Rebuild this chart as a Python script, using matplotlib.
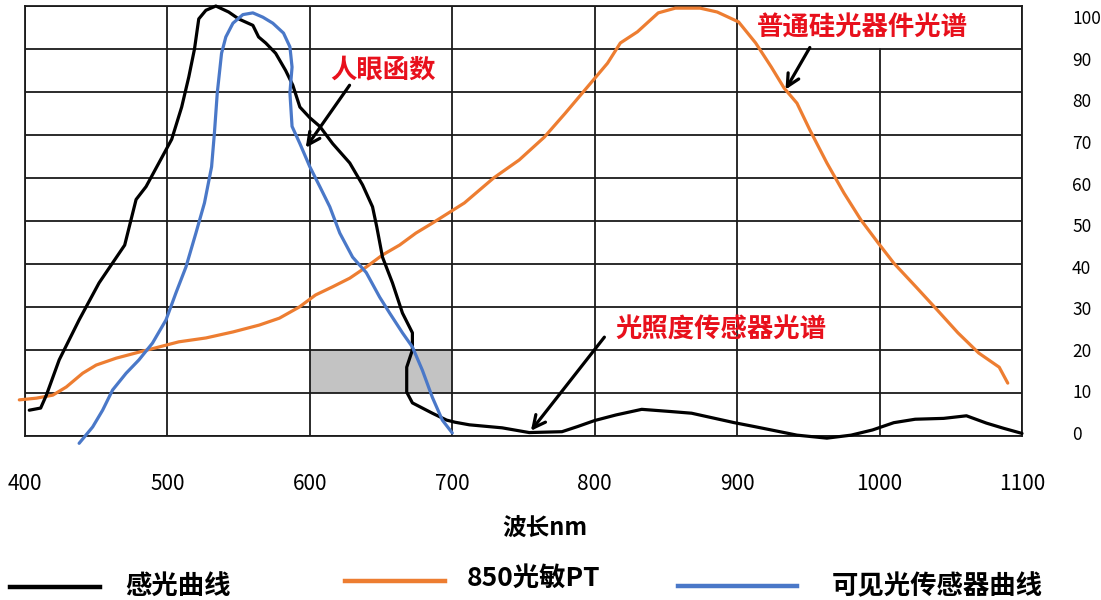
import matplotlib.pyplot as plt
from matplotlib.lines import Line2D
from matplotlib.patches import Rectangle

plt.rcParams['font.family'] = ['Noto Sans CJK SC', 'DejaVu Sans']

# 感光曲线 (black)
black_x = [403, 411, 415, 424, 438, 452, 461, 470, 478, 485,
           494, 503, 510, 515, 519, 522, 527, 534, 543, 550,
           560, 564, 569, 576, 583, 588, 593, 600, 607, 616,
           628, 637, 644, 647, 651, 658, 665, 672, 672, 668,
           668, 672, 679, 686, 696, 702, 712, 735, 754, 777,
           788, 800, 815, 833, 853, 868, 883, 898, 912, 927,
           942, 963, 980, 995, 1010, 1025, 1045, 1061, 1075, 1087,
           1100]
black_y = [6.0, 6.5, 9.5, 17.7, 27, 35.6, 40, 44.4, 55, 58,
           63.5, 69, 76.5, 83.5, 90, 97, 99, 100, 98.6, 97,
           95.5, 92.8, 91.4, 89, 85, 81.6, 76.5, 74, 72, 68,
           63.5, 58.4, 53.3, 48.6, 41.6, 35.6, 28.6, 24, 20, 16,
           10.2, 7.7, 6.5, 5.3, 3.7, 3.2, 2.6, 1.9, 0.8, 1.0,
           2.2, 3.6, 4.9, 6.2, 5.7, 5.3, 4.2, 3.1, 2.2, 1.2,
           0.2, -0.5, 0.2, 1.4, 3.1, 3.9, 4.1, 4.7, 3.0, 1.8,
           0.6]

# 850光敏PT (orange)
orange_x = [396, 408, 419.5, 429, 440.5, 450, 464, 480, 494, 508,
            527, 546, 564.5, 578.6, 592.6, 604, 616, 628, 639.6, 651,
            663, 674.5, 686, 708.5, 729, 747, 764.6, 779.4, 797, 809,
            818, 830, 844.6, 856.6, 874, 886, 901, 913, 924, 933,
            942, 951, 963, 975, 987, 999, 1010, 1025.5, 1040.5, 1055,
            1069.6, 1084, 1090]
orange_y = [8.4, 8.8, 9.5, 11.4, 14.6, 16.5, 18.1, 19.5, 20.7, 21.9,
            22.8, 24.2, 25.8, 27.4, 30, 32.8, 34.7, 36.7, 39.3, 42.1,
            44.4, 47.2, 49.5, 54.2, 60, 64.2, 69.5, 75.1, 82, 86.7,
            91.4, 94, 98.4, 99.5, 99.5, 98.6, 96.3, 91.4, 85.8, 80.9,
            77.4, 71.2, 63.5, 56.5, 50.2, 44.9, 40.2, 34.7, 29.3, 24,
            19.3, 16, 12.3]

# 可见光传感器曲线 (blue)
blue_x = [438, 447.5, 454.5, 461.5, 471, 480, 489.5, 499, 506, 513,
          520, 526, 531, 533, 535, 538, 541, 546, 553, 560,
          567, 574, 581.5, 586, 587.5, 586, 587.5, 593, 600, 607,
          614, 621, 630, 639.6, 649, 656, 665, 672, 679, 686,
          693, 700]
blue_y = [-1.7, 2.1, 6, 10.7, 14.6, 17.7, 21.6, 27, 33.3, 39.3,
          47.2, 54.2, 62.6, 70.5, 79.8, 89, 92.8, 96, 98, 98.4,
          97.4, 96, 93.7, 90.5, 85.8, 79.8, 72, 68, 62.6, 58,
          53.3, 47.2, 41.6, 38, 32.3, 28.6, 24, 20.7, 15.3, 9,
          3.7, 0.7]

x_ticks = [400, 500, 600, 700, 800, 900, 1000, 1100]
y_ticks = [0, 10, 20, 30, 40, 50, 60, 70, 80, 90, 100]
series_names = ['感光曲线', '850光敏PT', '可见光传感器曲线']

BLACK = '#000000'
ORANGE = '#ed7d31'
BLUE = '#4a78c8'
RED = '#e8101c'

fig = plt.figure(figsize=(11.01, 6), dpi=100)
ax = fig.add_axes([25/1101, 1 - 436/600, (1022 - 25)/1101, 430/600])
ax.set_xlim(400, 1100)
ax.set_ylim(0, 100)

# grid (the 1000 line is hidden in the top row behind the label)
for yv in y_ticks:
    ax.axhline(yv, color='#1a1a1a', lw=1.3, zorder=1)
for xv in x_ticks:
    top = 0.9 if xv == 1000 else 1.0
    ax.axvline(xv, ymax=top, color='#1a1a1a', lw=1.3, zorder=1)
for s in ax.spines.values():
    s.set_color('#1a1a1a')
    s.set_linewidth(1.3)

ax.add_patch(Rectangle((600, 10), 100, 10, facecolor='#c3c3c3', edgecolor='none', zorder=0.5))

line_kw = dict(lw=2.3, clip_on=False, solid_joinstyle='round', solid_capstyle='round')
ax.plot(orange_x, orange_y, color=ORANGE, zorder=3, **line_kw)
ax.plot(black_x, black_y, color=BLACK, zorder=4, **line_kw)
ax.plot(blue_x, blue_y, color=BLUE, zorder=5, **line_kw)

ax.set_xticks(x_ticks)
ax.set_xticklabels([str(v) for v in x_ticks], fontsize=15)
ax.tick_params(axis='x', length=0, pad=27)

# right-hand labels sit a little inside the gridline span in the original
ax.yaxis.tick_right()
ax.set_yticks([0.7 + v * 0.967 for v in y_ticks])
ax.set_yticklabels([str(v) for v in y_ticks], fontsize=12.5, ha='left')
ax.tick_params(axis='y', length=0, pad=36)

# red annotations with arrows
ax.text(651.6, 85.1, '人眼函数', color=RED, fontsize=19, fontweight='bold', ha='center', va='center', zorder=6)
ax.text(987.7, 94.9, '普通硅光器件光谱', color=RED, fontsize=19, fontweight='bold', ha='center', va='center', zorder=6)
ax.text(888.8, 24.7, '光照度传感器光谱', color=RED, fontsize=19, fontweight='bold', ha='center', va='center', zorder=6)
arrow = dict(arrowstyle='->', lw=2.3, color='black', mutation_scale=22)
ax.annotate('', xy=(596, 66.5), xytext=(629, 82.1), arrowprops=arrow, zorder=6)
ax.annotate('', xy=(933, 80), xytext=(952, 90.9), arrowprops=arrow, zorder=6)
ax.annotate('', xy=(754, 0.7), xytext=(808, 23.5), arrowprops=arrow, zorder=6)

fig.text(545/1101, 1 - 528/600, '波长nm', fontsize=17, fontweight='bold', ha='center', va='center')

# legend drawn by hand along the bottom
leg_lines = [(10, 100, 587, BLACK), (345, 445, 581, ORANGE), (678, 797, 586, BLUE)]
leg_text = [(125, 587), (467, 578), (832, 587)]
for (x0, x1, yy, c), (tx, ty), name in zip(leg_lines, leg_text, series_names):
    fig.add_artist(Line2D([x0/1101, x1/1101], [1 - yy/600, 1 - yy/600], color=c, lw=3.2))
    fig.text(tx/1101, 1 - ty/600, name, fontsize=19, fontweight='bold', ha='left', va='center')

fig.savefig('out.png', dpi=100)
